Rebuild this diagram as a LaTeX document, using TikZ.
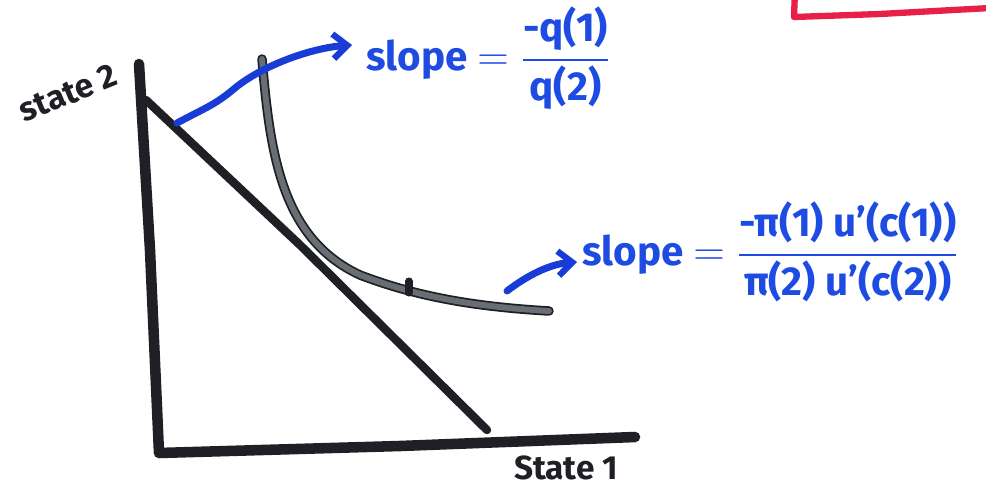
\documentclass[tikz,border=0pt]{standalone}
\usepackage{amsmath}
\usepackage{fontspec}
\setmainfont{Fira Sans}
\usetikzlibrary{arrows.meta}
\definecolor{inkblack}{RGB}{30,32,38}
\definecolor{inkgray}{RGB}{105,109,116}
\definecolor{inkblue}{RGB}{25,60,215}
\definecolor{textblue}{RGB}{30,75,225}
\definecolor{inkred}{RGB}{232,32,72}
\begin{document}
\begin{tikzpicture}[x=0.02cm,y=-0.02cm,
  axisline/.style={draw=inkblack,line width=6pt,line cap=round,line join=round},
  budgetline/.style={draw=inkblack,line width=4.8pt,line cap=round},
  icurveouter/.style={draw=inkblack,line width=5.4pt,line cap=round},
  icurveinner/.style={draw=inkgray,line width=3.4pt,line cap=round},
  bluearrow/.style={draw=inkblue,line width=4pt,line cap=round,-{Straight Barb[length=8pt,width=14pt,line width=3.6pt]}},
  axislabel/.style={text=inkblack,font=\fontsize{19}{22}\selectfont\bfseries},
  slopelabel/.style={text=textblue,font=\fontsize{23}{27}\selectfont\bfseries,anchor=west,inner sep=0pt}
]
\useasboundingbox (0,0) rectangle (986,500);

% red box (partial)
\draw[draw=inkred,line width=3.6pt,line cap=round,line join=round]
  (795,-10) -- (794,17) -- (880,14) -- (990,8);

% axes
\coordinate (ytop) at (139,64);
\coordinate (origin) at (159,453);
\coordinate (xend) at (635,437);
\draw[axisline] (ytop) -- (150,250) -- (origin) -- (400,446) -- (xend);

% budget line
\coordinate (b1) at (146,100);
\coordinate (b2) at (487,430);
\draw[budgetline] (b1) -- (300,245) -- (b2);

% indifference curve
\coordinate (ic1) at (262,59);
\coordinate (icmid) at (360,275);
\coordinate (ic2) at (549,311);
\draw[icurveouter] (ic1) .. controls (270,150) and (280,238) .. (icmid) .. controls (420,298) and (480,307) .. (ic2);
\draw[icurveinner] (ic1) .. controls (270,150) and (280,238) .. (icmid) .. controls (420,298) and (480,307) .. (ic2);
\coordinate (tick1) at (409,281);
\coordinate (tick2) at (409,293);
\draw[draw=inkblack,line width=4pt,line cap=round] (tick1) -- (tick2);

% labels
\node[axislabel,rotate=22] (state2) at (68,93) {state 2};
\node[axislabel] (state1) at (566,468) {State 1};

\node[slopelabel] (slope1) at (366,58)
  {slope $=\dfrac{\mbox{-q(1)}}{\mbox{q(2)}}$};
\node[slopelabel] (slope2) at (582,252)
  {slope $=\dfrac{\mbox{-π(1) u'(c(1))}}{\mbox{π(2) u'(c(2))}}$};

% blue arrows
\coordinate (a1s) at (177,123);
\coordinate (a1e) at (352,45);
\draw[bluearrow] (a1s) .. controls (205,108) and (215,105) .. (235,88) .. controls (262,66) and (310,48) .. (a1e);
\coordinate (a2s) at (507,291);
\coordinate (a2e) at (577,262);
\draw[bluearrow] (a2s) .. controls (528,275) and (550,264) .. (a2e);
\end{tikzpicture}
\end{document}
